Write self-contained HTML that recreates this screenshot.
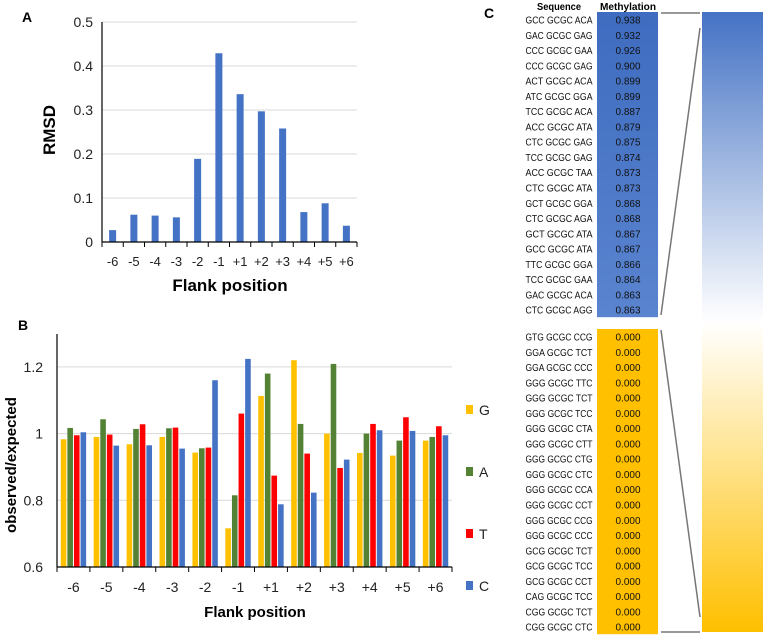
<!DOCTYPE html>
<html><head><meta charset="utf-8"><style>
body{margin:0;background:#fff;width:764px;height:635px;overflow:hidden;font-family:"Liberation Sans",sans-serif}
svg text{font-family:"Liberation Sans",sans-serif}
</style></head><body>
<svg id="fig" width="764" height="635" viewBox="0 0 764 635" xmlns="http://www.w3.org/2000/svg">
<defs>
<linearGradient id="gbar" x1="0" y1="0" x2="0" y2="1">
<stop offset="0" stop-color="#4472c4"/><stop offset="0.5" stop-color="#ffffff"/><stop offset="1" stop-color="#ffc000"/>
</linearGradient>
<linearGradient id="gblue" x1="0" y1="0" x2="0" y2="1">
<stop offset="0" stop-color="#3f6cc0"/><stop offset="1" stop-color="#5a84cf"/>
</linearGradient>
</defs>
<g id="panelA"></g>
<g id="panelB"></g>
<g id="panelC"></g>
</svg>
<script>
const categories = ["-6","-5","-4","-3","-2","-1","+1","+2","+3","+4","+5","+6"];
const rmsdValues = [0.027,0.062,0.060,0.056,0.189,0.429,0.336,0.297,0.258,0.068,0.088,0.037];
const rmsdTicks = [0,0.1,0.2,0.3,0.4,0.5];
const seriesNames = ["G","A","T","C"];
const gValues = [0.983,0.990,0.968,0.990,0.943,0.716,1.113,1.220,1.000,0.942,0.934,0.979];
const aValues = [1.017,1.043,1.014,1.016,0.956,0.815,1.180,1.029,1.209,1.000,0.979,0.990];
const tValues = [0.995,0.997,1.028,1.018,0.958,1.060,0.874,0.940,0.897,1.029,1.049,1.022];
const cValues = [1.004,0.964,0.965,0.955,1.160,1.224,0.788,0.823,0.922,1.010,1.008,0.995];
const obsTicks = [0.6,0.8,1.0,1.2];
const obsTickLabels = ["0.6","0.8","1","1.2"];
const topSeqs = ["GCC GCGC ACA","GAC GCGC GAG","CCC GCGC GAA","CCC GCGC GAG","ACT GCGC ACA","ATC GCGC GGA","TCC GCGC ACA","ACC GCGC ATA","CTC GCGC GAG","TCC GCGC GAG","ACC GCGC TAA","CTC GCGC ATA","GCT GCGC GGA","CTC GCGC AGA","GCT GCGC ATA","GCC GCGC ATA","TTC GCGC GGA","TCC GCGC GAA","GAC GCGC ACA","CTC GCGC AGG"];
const topMeth = ["0.938","0.932","0.926","0.900","0.899","0.899","0.887","0.879","0.875","0.874","0.873","0.873","0.868","0.868","0.867","0.867","0.866","0.864","0.863","0.863"];
const botSeqs = ["GTG GCGC CCG","GGA GCGC TCT","GGA GCGC CCC","GGG GCGC TTC","GGG GCGC TCT","GGG GCGC TCC","GGG GCGC CTA","GGG GCGC CTT","GGG GCGC CTG","GGG GCGC CTC","GGG GCGC CCA","GGG GCGC CCT","GGG GCGC CCG","GGG GCGC CCC","GCG GCGC TCT","GCG GCGC TCC","GCG GCGC CCT","CAG GCGC TCC","CGG GCGC TCT","CGG GCGC CTC"];
const botMeth = ["0.000","0.000","0.000","0.000","0.000","0.000","0.000","0.000","0.000","0.000","0.000","0.000","0.000","0.000","0.000","0.000","0.000","0.000","0.000","0.000"];

const NS="http://www.w3.org/2000/svg";
function mk(parent,tag,attrs,text){const e=document.createElementNS(NS,tag);for(const k in attrs)e.setAttribute(k,attrs[k]);if(text!==undefined)e.textContent=text;parent.appendChild(e);return e;}

// Panel A
(function(){
const g=document.getElementById('panelA');
const x0=102,x1=357,y0=242,yTop=22,vmax=0.5;
const yA=v=>y0-(v/vmax)*(y0-yTop);
const step=(x1-x0)/categories.length;
const xA=i=>x0+step*(i+0.5);
let t=mk(g,'text',{x:22,y:22,'font-size':14,'font-weight':'bold'},'A');

rmsdTicks.forEach(v=>{
 if(v>0){let l=mk(g,'line',{x1:x0,x2:x1,y1:yA(v),y2:yA(v),stroke:'#d9d9d9','stroke-width':1});}
 let tt=mk(g,'text',{x:x0-9,y:yA(v)+5,'font-size':14,'text-anchor':'end',fill:'#222'},String(v));
 
});
rmsdValues.forEach((v,i)=>{
 let r=mk(g,'rect',{x:xA(i)-3.5,y:yA(v),width:7,height:y0-yA(v),fill:'#4472c4'});
 
 let tl=mk(g,'text',{x:xA(i),y:266,'font-size':13,'text-anchor':'middle',fill:'#222'},categories[i]);
 
});
let ax=mk(g,'line',{x1:x0,x2:x0,y1:yTop,y2:y0,stroke:'#000','stroke-width':1.2});
let bx=mk(g,'line',{x1:x0,x2:x1,y1:y0,y2:y0,stroke:'#000','stroke-width':1.2});
for(let i=0;i<=categories.length;i++){let k=mk(g,'line',{x1:x0+step*i,x2:x0+step*i,y1:y0,y2:y0+5,stroke:'#000'});}
let xt=mk(g,'text',{x:230,y:291,'font-size':17,'font-weight':'bold','text-anchor':'middle'},'Flank position');
let yt=mk(g,'text',{x:0,y:0,'font-size':17,'font-weight':'bold','text-anchor':'middle',transform:'translate(55,130) rotate(-90)'},'RMSD');
})();

// Panel B
(function(){
const g=document.getElementById('panelB');
const x0=57,x1=452,y0=567,vmin=0.6,pxPer=66.7/0.2;
const yB=v=>y0-(v-vmin)*pxPer;
const step=(x1-x0)/categories.length;
const colors=["#ffc000","#548235","#ff0000","#4472c4"];
const series=[gValues,aValues,tValues,cValues];
let t=mk(g,'text',{x:18,y:330,'font-size':14,'font-weight':'bold'},'B');
obsTicks.forEach((v,i)=>{
 if(i>0){let l=mk(g,'line',{x1:x0,x2:x1,y1:yB(v),y2:yB(v),stroke:'#d9d9d9'});}
 let tt=mk(g,'text',{x:x0-14,y:yB(v)+5,'font-size':14,'text-anchor':'end',fill:'#222'},obsTickLabels[i]);
});
series.forEach((vals,s)=>{
 vals.forEach((v,i)=>{
  const cx=x0+step*i+step/2+(s-1.5)*6.6;
  let r=mk(g,'rect',{x:cx-2.8,y:yB(v),width:5.6,height:y0-yB(v),fill:colors[s]});
  
 });
});
categories.forEach((c,i)=>{let tl=mk(g,'text',{x:x0+step*(i+0.5),y:592,'font-size':14,'text-anchor':'middle',fill:'#222'},c);});
let ax=mk(g,'line',{x1:x0,x2:x0,y1:334,y2:y0,stroke:'#000','stroke-width':1.2});
let bx=mk(g,'line',{x1:x0,x2:x1,y1:y0,y2:y0,stroke:'#000','stroke-width':1.2});
for(let i=0;i<=categories.length;i++){let k=mk(g,'line',{x1:x0+step*i,x2:x0+step*i,y1:y0,y2:y0+5,stroke:'#000'});}
let xt=mk(g,'text',{x:255,y:617,'font-size':15,'font-weight':'bold','text-anchor':'middle'},'Flank position');
let yt=mk(g,'text',{x:0,y:0,'font-size':15,'font-weight':'bold','text-anchor':'middle',transform:'translate(16,465) rotate(-90)'},'observed/expected');
const legY=[410,472,534,586];
seriesNames.forEach((n,s)=>{
 let r=mk(g,'rect',{x:466,y:legY[s]-5,width:7,height:9,fill:colors[s]});
 let tx=mk(g,'text',{x:479,y:legY[s]+5,'font-size':14,fill:'#222'},n);
});
})();

// Panel C
(function(){
const g=document.getElementById('panelC');
const rh=15.26;
let t=mk(g,'text',{x:484,y:18,'font-size':14,'font-weight':'bold'},'C');
let h1=mk(g,'text',{x:559,y:10,'font-size':10,'font-weight':'bold','text-anchor':'middle',textLength:44,lengthAdjust:'spacingAndGlyphs'},'Sequence');
let h2=mk(g,'text',{x:628,y:10,'font-size':10,'font-weight':'bold','text-anchor':'middle',textLength:56,lengthAdjust:'spacingAndGlyphs'},'Methylation');
let tb=mk(g,'rect',{x:597,y:12,width:61,height:rh*20,fill:'url(#gblue)'});
let bb=mk(g,'rect',{x:597,y:329,width:61,height:rh*20,fill:'#ffc000'});
function rows(seqs,meth,y,tag){
 seqs.forEach((s,i)=>{
  const yy=y+rh*i+rh/2+4;
  let a=mk(g,'text',{x:559,y:yy,'font-size':10.5,'text-anchor':'middle',fill:'#111',textLength:67,lengthAdjust:'spacingAndGlyphs'},s);
  let b=mk(g,'text',{x:628,y:yy,'font-size':10.5,'text-anchor':'middle',fill:'#111',textLength:25,lengthAdjust:'spacingAndGlyphs'},meth[i]);
 });
}
rows(topSeqs,topMeth,12,'top');rows(botSeqs,botMeth,329,'bottom');
let gb=mk(g,'rect',{x:702,y:12,width:61,height:620,fill:'url(#gbar)'});
const ls=[[661,13,700,13],[700,28,661,315],[661,330,700,617],[661,632,700,632]];
ls.forEach(l=>{let e=mk(g,'line',{x1:l[0],y1:l[1],x2:l[2],y2:l[3],stroke:'#777','stroke-width':1.5});});
})();
</script>
</body></html>
